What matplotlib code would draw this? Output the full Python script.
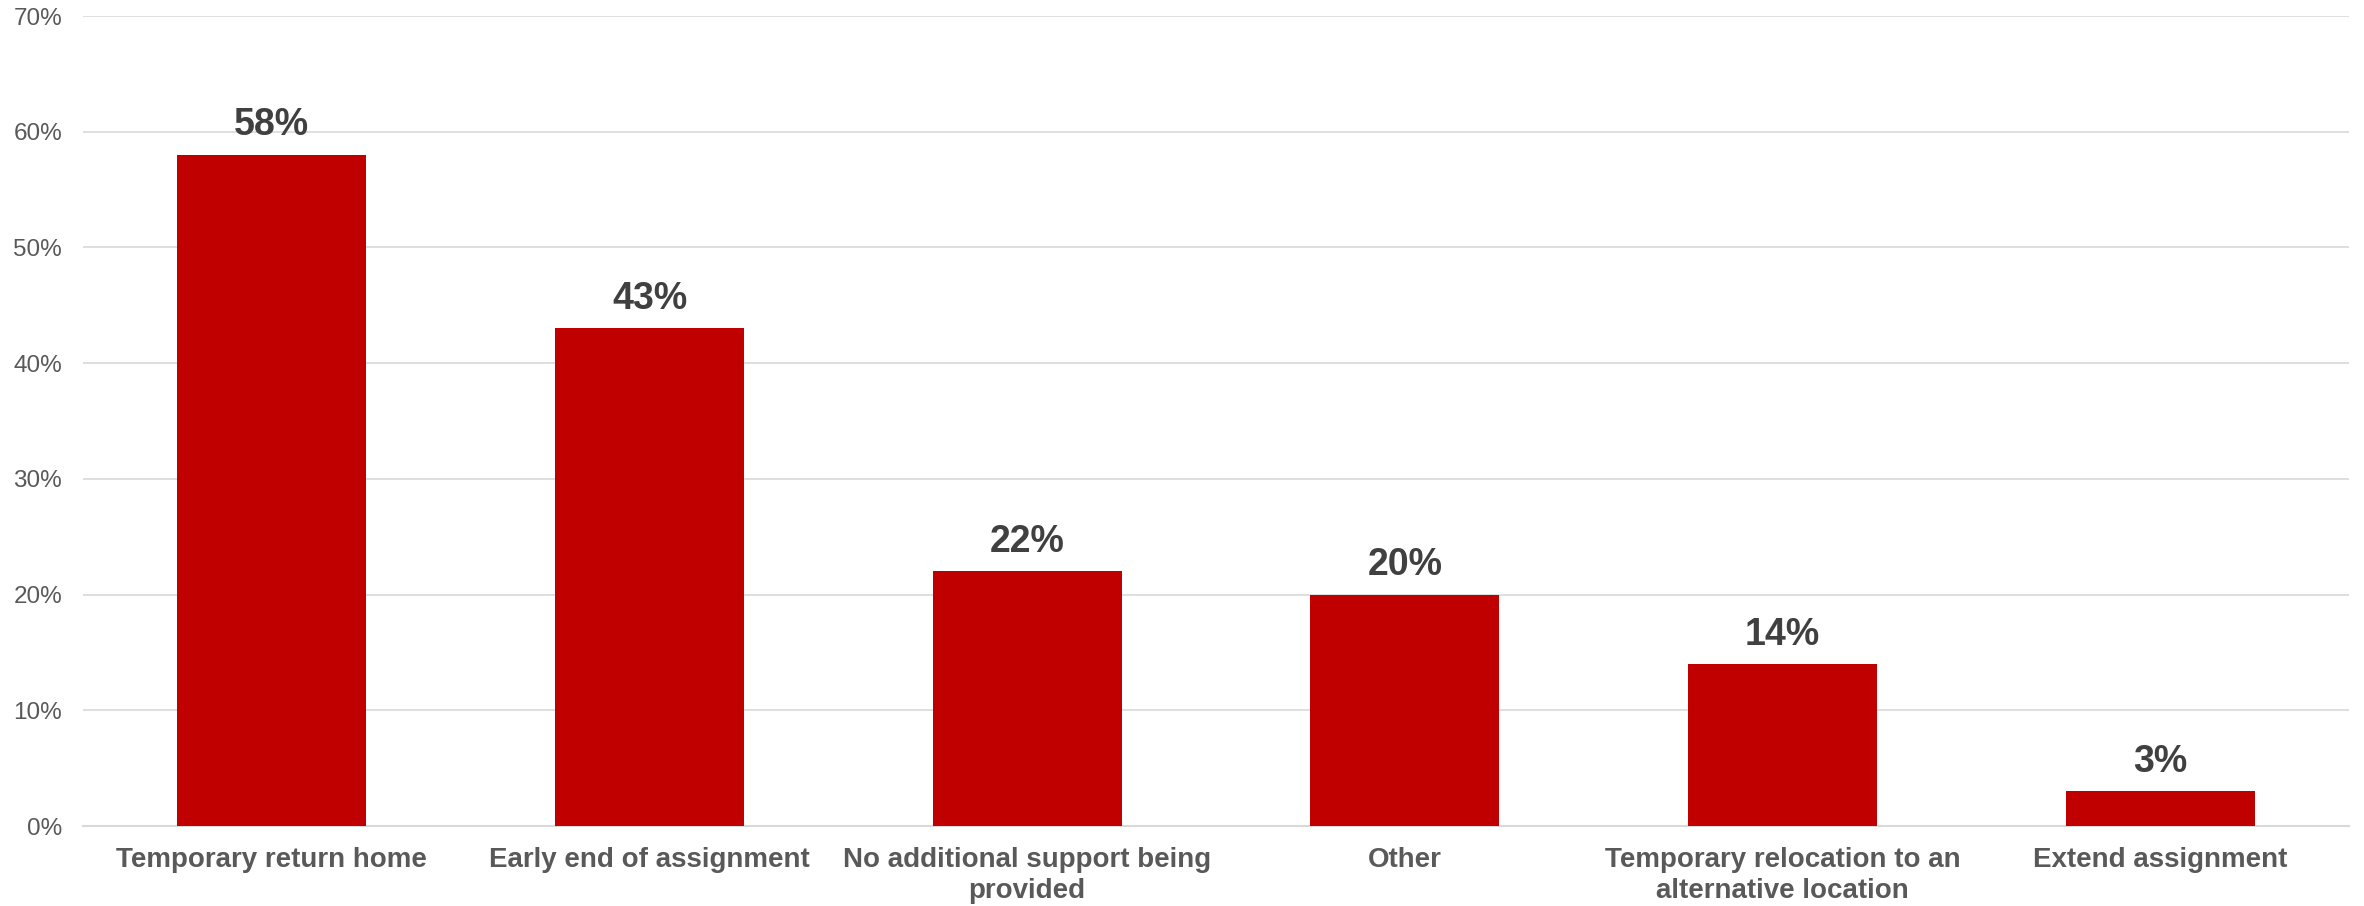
import matplotlib.pyplot as plt
from matplotlib.ticker import PercentFormatter

plt.rcParams['font.family'] = ['Liberation Sans', 'DejaVu Sans']

# survey responses (% of respondents)
categories = ['Temporary return home', 'Early end of assignment',
              'No additional support being\nprovided', 'Other',
              'Temporary relocation to an\nalternative location', 'Extend assignment']
shares = [58, 43, 22, 20, 14, 3]

BAR_RED = '#C00000'
GRID_GREY = '#D9D9D9'

fig = plt.figure(figsize=(23.64, 9.06), dpi=100)
ax = fig.add_axes([0.0351, 0.0883, 0.9586, 0.894])

x = range(len(categories))
bars = ax.bar(x, shares, width=0.5, color=BAR_RED, zorder=3)

for b, v in zip(bars, shares):
    ax.annotate(f'{v}%', (b.get_x() + b.get_width() / 2, v),
                xytext=(0, 14), textcoords='offset points',
                ha='center', va='baseline', fontsize=27, fontweight='bold',
                color='#404040')

ax.set_xlim(-0.5, len(categories) - 0.5)
ax.set_ylim(0, 70)
ax.set_yticks(range(0, 71, 10))
ax.yaxis.set_major_formatter(PercentFormatter(decimals=0))
ax.set_xticks(list(x))
ax.set_xticklabels(categories, fontsize=20, fontweight='bold', color='#595959',
                   linespacing=1.25)

ax.tick_params(axis='y', length=0, pad=15, labelsize=17.5, labelcolor='#595959')
ax.tick_params(axis='x', length=0, pad=15)

ax.grid(axis='y', color=GRID_GREY, linewidth=1.2, zorder=0)
for side in ['top', 'right', 'left']:
    ax.spines[side].set_visible(False)
ax.spines['bottom'].set_color(GRID_GREY)
ax.spines['bottom'].set_linewidth(1.5)

fig.savefig('out.png', dpi=100, facecolor='white')
